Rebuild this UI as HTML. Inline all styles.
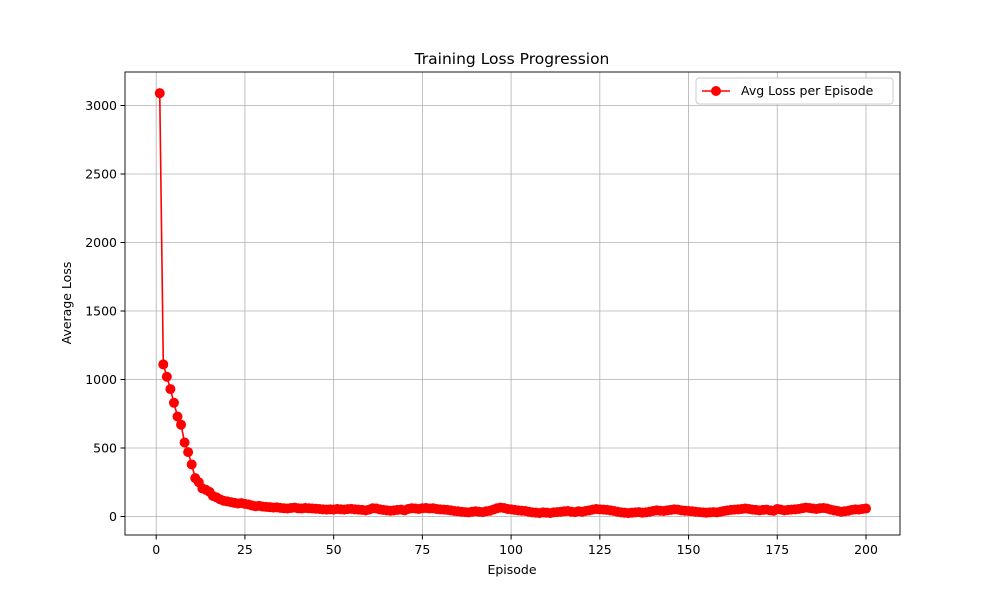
<!DOCTYPE html>
<html><head><meta charset="utf-8"><style>
body{margin:0;background:#fff;font-family:"Liberation Sans","DejaVu Sans",sans-serif}
svg text{font-family:"DejaVu Sans","Liberation Sans",sans-serif;font-size:12.5px;fill:#000}
</style></head><body>
<svg id="c" width="1000" height="600">
<rect x="0" y="0" width="1000" height="600" fill="#fff"/>
<g id="grid"></g>
<path id="line" fill="none" stroke="#ff0000" stroke-width="1.6"/>
<g id="pts"></g>
<rect x="125" y="72" width="775" height="463" fill="none" stroke="#000" stroke-width="0.9"/>
<g id="ticks"></g>
<text x="512" y="64" text-anchor="middle" style="font-size:15.5px">Training Loss Progression</text>
<text x="512" y="574" text-anchor="middle">Episode</text>
<text x="71" y="303" text-anchor="middle" transform="rotate(-90 71 303)">Average Loss</text>
<g>
<rect x="696" y="78" width="197" height="26" rx="3" fill="#fff" stroke="#ccc"/>
<line x1="702" y1="91" x2="730" y2="91" stroke="#ff0000" stroke-width="1.6"/>
<circle cx="716" cy="91" r="5" fill="#ff0000"/>
<text x="741" y="95">Avg Loss per Episode</text>
</g>
</svg>
<script>
const xTicks=[0,25,50,75,100,125,150,175,200];
const yTicks=[0,500,1000,1500,2000,2500,3000];
const losses=[3090,1110,1020,930,830,730,670,540,470,380,280,250,205,195,180,150,140,125,115,110,
105,100,95,98,92,88,80,75,78,72,70,68,65,67,63,60,58,62,65,60,58,62,60,58,57,55,52,50,52,50,
55,52,50,54,56,52,50,48,45,50,60,58,52,48,45,42,45,48,50,45,55,60,58,55,60,62,58,60,55,52,
50,48,45,40,38,35,32,30,35,38,35,32,38,42,50,60,65,62,55,52,48,45,42,40,35,30,28,25,30,28,
25,30,32,35,38,40,35,32,38,35,40,45,50,55,52,50,48,45,40,35,30,28,25,28,30,32,28,30,35,40,
45,42,40,45,48,52,50,45,42,40,38,35,32,30,28,30,32,30,35,40,45,48,50,52,55,58,55,50,48,45,
48,50,45,42,55,50,45,48,50,52,55,60,65,62,58,55,60,62,58,50,45,40,35,38,42,48,52,50,55,58];
const NS="http://www.w3.org/2000/svg";
const X=v=>156.2+(v)*(866-156.2)/200;
const Y=v=>516.5-v*(516.5-105.5)/3000;
const g=document.getElementById('grid'),t=document.getElementById('ticks'),p=document.getElementById('pts');
function mk(tag,a,parent){const e=document.createElementNS(NS,tag);for(const k in a)e.setAttribute(k,a[k]);parent.appendChild(e);return e;}
xTicks.forEach(v=>{
 const l=mk('line',{x1:X(v),x2:X(v),y1:72,y2:535,stroke:'#b0b0b0','stroke-width':0.8},g);
 
 
 mk('line',{x1:X(v),x2:X(v),y1:535,y2:539.5,stroke:'#000'},t);
 const tx=mk('text',{x:X(v),y:554,'text-anchor':'middle'},t);tx.textContent=v;
 
 
});
yTicks.forEach(v=>{
 const l=mk('line',{x1:125,x2:900,y1:Y(v),y2:Y(v),stroke:'#b0b0b0','stroke-width':0.8},g);
 
 
 mk('line',{x1:120.5,x2:125,y1:Y(v),y2:Y(v),stroke:'#000'},t);
 const tx=mk('text',{x:117,y:Y(v)+4.5,'text-anchor':'end'},t);tx.textContent=v;
 
 
});
let d='';
losses.forEach((v,i)=>{
 d+=(i?'L':'M')+X(i+1)+' '+Y(v);
 const c=mk('circle',{cx:X(i+1),cy:Y(v),r:5,fill:'#ff0000'},p);
 
 
});
document.getElementById('line').setAttribute('d',d);
</script>
</body></html>
